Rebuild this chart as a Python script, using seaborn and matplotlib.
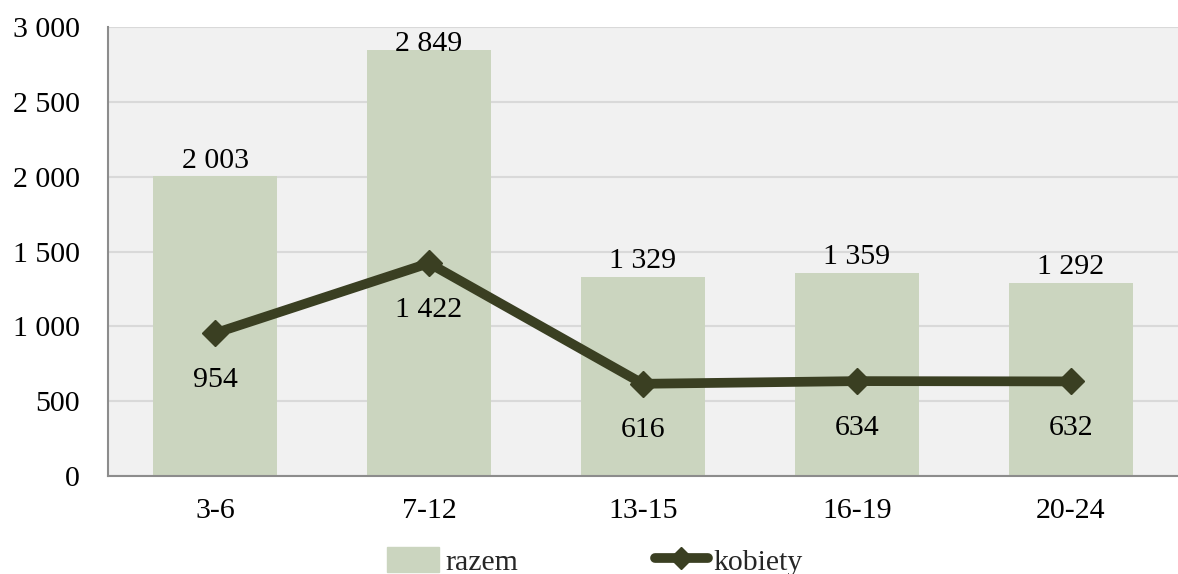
import matplotlib
matplotlib.use("Agg")
import matplotlib.pyplot as plt
import seaborn as sns
import pandas as pd
from matplotlib.ticker import FuncFormatter
from matplotlib.lines import Line2D
from matplotlib.patches import Patch

# Grupy wieku
age_groups = ["3-6", "7-12", "13-15", "16-19", "20-24"]
razem = [2003, 2849, 1329, 1359, 1292]
kobiety = [954, 1422, 616, 634, 632]

bar_color = "#cbd5bf"
line_color = "#3a3f22"
fs = 21.5

def fmt(v):
    return f"{int(v):,}".replace(",", " ")

df = pd.DataFrame({"grupa": age_groups, "razem": razem, "kobiety": kobiety})

sns.set_theme(style="white")
plt.rcParams["font.family"] = ["Liberation Serif", "DejaVu Serif"]

fig = plt.figure(figsize=(11.78, 5.74), dpi=100)
ax = fig.add_axes([108 / 1178, 1 - 476 / 574, (1178 - 108) / 1178, (476 - 27) / 574])
ax.set_facecolor("#f1f1f1")

sns.barplot(data=df, x="grupa", y="razem", color=bar_color, width=0.575,
            saturation=1, linewidth=0, ax=ax, zorder=2)
ax.plot(range(len(age_groups)), kobiety, color=line_color, lw=7,
        marker="D", markersize=13, zorder=3, solid_capstyle="round")

# etykiety słupków (Excel przycina do obszaru wykresu)
for i, v in enumerate(razem):
    ax.text(i, min(v + 105, 2886), fmt(v), ha="center", va="center",
            fontsize=fs, color="black", zorder=4)
for i, v in enumerate(kobiety):
    ax.text(i, v - 310, fmt(v), ha="center", va="center",
            fontsize=fs, color="black", zorder=4)

ax.set_ylim(0, 3000)
ax.set_xlim(-0.5, 4.5)
ax.set_yticks(range(0, 3001, 500))
ax.yaxis.set_major_formatter(FuncFormatter(lambda v, p: fmt(v)))
ax.grid(axis="y", color="#d9d9d9", lw=1.5, zorder=0)
ax.set_axisbelow(True)
ax.set_xlabel("")
ax.set_ylabel("")
ax.tick_params(axis="both", length=0, labelsize=fs, colors="black")
ax.tick_params(axis="y", pad=20)
ax.tick_params(axis="x", pad=16)
for s in ["top", "right"]:
    ax.spines[s].set_visible(False)
for s in ["left", "bottom"]:
    ax.spines[s].set_color("#8c8c8c")
    ax.spines[s].set_linewidth(1.5)

handles = [Patch(color=bar_color, label="razem"),
           Line2D([0], [0], color=line_color, lw=7, marker="D", markersize=11,
                  solid_capstyle="round", label="kobiety")]
fig.legend(handles=handles, loc="lower center", bbox_to_anchor=(0.505, -0.05), ncol=2,
           frameon=False, fontsize=fs, handlelength=1.75, handletextpad=0.2,
           columnspacing=4.6, handleheight=0.9)

fig.savefig("out.png", dpi=100)
